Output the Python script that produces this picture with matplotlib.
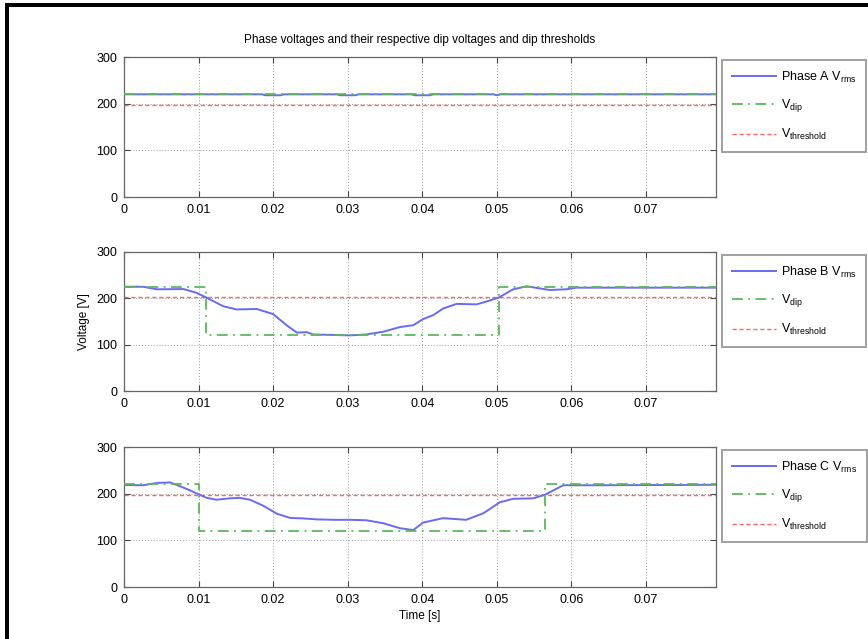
import matplotlib.pyplot as plt
import numpy as np
from matplotlib.patches import Rectangle

plt.rcParams['font.family'] = ['Liberation Sans', 'DejaVu Sans']
plt.rcParams['mathtext.fontset'] = 'custom'
plt.rcParams['mathtext.rm'] = 'Liberation Sans'

# phase A
tA = [0, 0.0185, 0.019, 0.021, 0.0215, 0.0285, 0.029, 0.031, 0.0315,
      0.0385, 0.039, 0.041, 0.0415, 0.0495, 0.050, 0.0505, 0.0794]
vA = [220, 220, 218, 218, 220, 220, 218, 218, 220,
      220, 218, 218, 220, 220, 218, 220, 220]
dipA_t = [0, 0.0794]
dipA_v = [220, 220]
thrA = 198

# phase B
tB = [0, 0.0026, 0.0044, 0.008, 0.0097, 0.011, 0.0133, 0.0151, 0.0178, 0.020,
      0.0218, 0.0232, 0.0245, 0.0254, 0.0281, 0.0303, 0.0325, 0.0348, 0.037,
      0.0388, 0.0401, 0.0415, 0.0428, 0.0446, 0.0473, 0.049, 0.0503, 0.0522,
      0.054, 0.0571, 0.0593, 0.0607, 0.0638, 0.0794]
vB = [225, 225, 219.5, 220, 212, 202, 183, 176, 177, 166,
      142, 126, 127, 122, 121, 120, 122, 128, 138,
      142, 155, 164, 178, 188, 187, 195, 202, 219.5,
      226, 218, 219.5, 223, 223, 223]
dipB_t = [0, 0.011, 0.011, 0.0503, 0.0503, 0.0794]
dipB_v = [225, 225, 121, 121, 225, 225]
thrB = 202

# phase C
tC = [0, 0.0026, 0.0044, 0.0062, 0.0075, 0.0088, 0.0101, 0.0111, 0.0124, 0.0142,
      0.0155, 0.0169, 0.0187, 0.0205, 0.0223, 0.024, 0.0258, 0.0281, 0.0303,
      0.0325, 0.0348, 0.037, 0.0388, 0.0401, 0.0428, 0.0459, 0.0482, 0.0504,
      0.0522, 0.0549, 0.0565, 0.058, 0.0589, 0.0634, 0.0794]
vC = [218.5, 218, 223, 224, 216, 207.5, 198, 191, 187, 190,
      191, 187, 174, 157, 148, 147, 145, 144, 144,
      143, 136.5, 126, 122, 138, 147.5, 144, 158, 181.5,
      189, 190, 198, 210.5, 218, 218, 219]
dipC_t = [0, 0.0101, 0.0101, 0.0565, 0.0565, 0.0794]
dipC_v = [220, 220, 120, 120, 220, 220]
thrC = 198

phases = ['A', 'B', 'C']
xticks = [0, 0.01, 0.02, 0.03, 0.04, 0.05, 0.06, 0.07]
xticklabels = ['0', '0.01', '0.02', '0.03', '0.04', '0.05', '0.06', '0.07']
yticks = [0, 100, 200, 300]

fig = plt.figure(figsize=(8.68, 6.39), dpi=100)
W, H = 868, 639

# black frame (top and left)
fig.add_artist(Rectangle((5 / W, 1 - 7 / H), 1, 4 / H, transform=fig.transFigure,
                         color='black', lw=0))
fig.add_artist(Rectangle((5 / W, 0), 4 / W, 1 - 3 / H, transform=fig.transFigure,
                         color='black', lw=0))

tops = [57, 252, 447]
bots = [197, 391, 587]
data = [(tA, vA, dipA_t, dipA_v, thrA),
        (tB, vB, dipB_t, dipB_v, thrB),
        (tC, vC, dipC_t, dipC_v, thrC)]

axes = []
for i in range(3):
    l = 124 / W
    w = (716 - 124) / W
    b = 1 - bots[i] / H
    h = (bots[i] - tops[i]) / H
    ax = fig.add_axes([l, b, w, h])
    t, v, dt, dv, thr = data[i]
    ax.plot(t, v, color='#6a6af2', lw=1.4, label='Phase %s V$_{\\rm rms}$' % phases[i], zorder=3)
    ax.plot(dt, dv, color='#5cb85c', lw=1.3, ls=(0, (6, 3, 1, 3)), label='V$_{\\rm dip}$', zorder=4)
    ax.plot([0, 0.0794], [thr, thr], color='#ff6666', lw=1.0, ls=(0, (3, 2)),
            label='V$_{\\rm threshold}$', zorder=2)
    ax.set_xlim(0, 0.0794)
    ax.set_ylim(0, 300)
    ax.set_xticks(xticks)
    ax.set_xticklabels(xticklabels)
    ax.set_yticks(yticks)
    ax.grid(True, color='#999999', ls=(0, (1, 2)), lw=0.7)
    ax.tick_params(direction='in', top=True, right=True, length=4, labelsize=9,
                   color='#444444', pad=5)
    for s in ax.spines.values():
        s.set_color('#666666')
        s.set_linewidth(0.9)
    leg = ax.legend(loc='upper left', bbox_to_anchor=(1.01, 0.98), fontsize=9,
                    frameon=True, fancybox=False, handlelength=3.5, labelspacing=1.0,
                    borderpad=0.8, borderaxespad=0, handletextpad=0.4)
    leg.get_frame().set_edgecolor('#888888')
    leg.get_frame().set_linewidth(1.4)
    axes.append(ax)

axes[0].set_title('Phase voltages and their respective dip voltages and dip thresholds',
                  fontsize=8.5, pad=10)
axes[1].set_ylabel('Voltage [V]', fontsize=8.5)
axes[2].set_xlabel('Time [s]', fontsize=8.5, labelpad=3)

fig.savefig('out.png', dpi=100)
